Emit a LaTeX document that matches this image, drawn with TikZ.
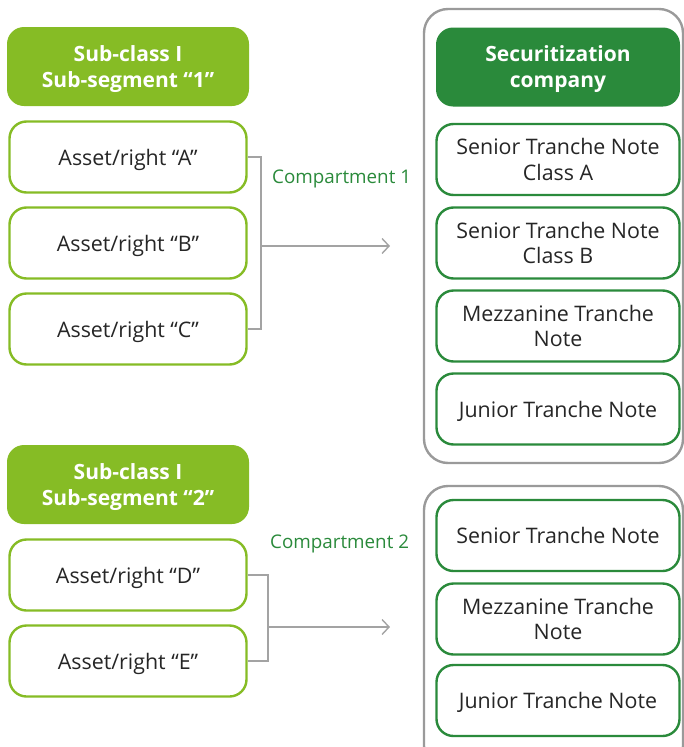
\documentclass[tikz,border=0pt]{standalone}
\usepackage{fontspec}
\setmainfont{Open Sans}
\usetikzlibrary{arrows.meta}
\definecolor{lime}{HTML}{86BC25}
\definecolor{deepgreen}{HTML}{2A8A3B}
\definecolor{linegray}{HTML}{A3A3A3}
\definecolor{framegray}{HTML}{9A9A9A}
\definecolor{textgray}{HTML}{262626}
\tikzset{
  x=1pt, y=-1pt,
  header/.style={rounded corners=17pt, fill=#1, text=white, font=\fontsize{21}{26}\selectfont\bfseries,
    align=center, minimum width=242pt, minimum height=79pt, inner sep=0pt, text depth=0pt},
  assetbox/.style={rounded corners=17pt, draw=lime, line width=2.4pt, fill=white, text=textgray,
    font=\fontsize{21.4}{25.5}\selectfont, align=center, minimum width=237pt, minimum height=71pt,
    inner sep=0pt, text depth=0pt},
  notebox/.style={rounded corners=17pt, draw=deepgreen, line width=2.4pt, fill=white, text=textgray,
    font=\fontsize{21.4}{25.5}\selectfont, align=center, minimum width=243pt, minimum height=71pt,
    inner sep=0pt, text depth=0pt},
  frame/.style={draw=framegray, line width=2.4pt, rounded corners=24pt},
  link/.style={draw=linegray, line width=1.4pt},
  flow/.style={link, -{Straight Barb[length=7pt, width=15pt, line width=1.4pt]}},
  tag/.style={text=deepgreen, font=\fontsize{18.8}{22}\selectfont, inner sep=0pt}
}
\begin{document}
\begin{tikzpicture}
\useasboundingbox (0,0) rectangle (684,747);

% outer frames of the two compartments
\draw[frame] (424,9) rectangle (683,463);
\draw[frame] (424,486) rectangle (683,770);

% left column: sub-segment 1
\node[header=lime] (h1) at (128,66.5) {Sub-class I\\Sub-segment “1”};
\node[assetbox] (a) at (128,157) {Asset/right “A”};
\node[assetbox] (b) at (128,243) {Asset/right “B”};
\node[assetbox] (c) at (128,329) {Asset/right “C”};

% left column: sub-segment 2
\node[header=lime] (h2) at (128,484.5) {Sub-class I\\Sub-segment “2”};
\node[assetbox] (d) at (128,575) {Asset/right “D”};
\node[assetbox] (e) at (128,661) {Asset/right “E”};

% right column: securitization company
\node[header=deepgreen, minimum width=244pt] (sc) at (558,67) {Securitization\\company};
\node[notebox] (n1) at (558,159.5) {Senior Tranche Note\\Class A};
\node[notebox] (n2) at (558,243) {Senior Tranche Note\\Class B};
\node[notebox] (n3) at (558,326) {Mezzanine Tranche\\Note};
\node[notebox] (n4) at (558,409) {Junior Tranche Note};

% right column: second compartment
\node[notebox] (m1) at (558,535.5) {Senior Tranche Note};
\node[notebox] (m2) at (558,619) {Mezzanine Tranche\\Note};
\node[notebox] (m3) at (558,700.5) {Junior Tranche Note};

% brackets and arrows
\coordinate (j1) at (261,246);
\coordinate (t1) at (390,246);
\draw[link] (a.east) -| (j1) |- (c.east);
\draw[flow] (j1) -- (t1);
\node[tag, anchor=west] (c1) at (272,178.5) {Compartment 1};

\coordinate (j2) at (268,627);
\coordinate (t2) at (390,627);
\draw[link] (d.east) -| (j2) |- (e.east);
\draw[flow] (j2) -- (t2);
\node[tag, anchor=west] (c2) at (270,543.5) {Compartment 2};
\end{tikzpicture}
\end{document}
